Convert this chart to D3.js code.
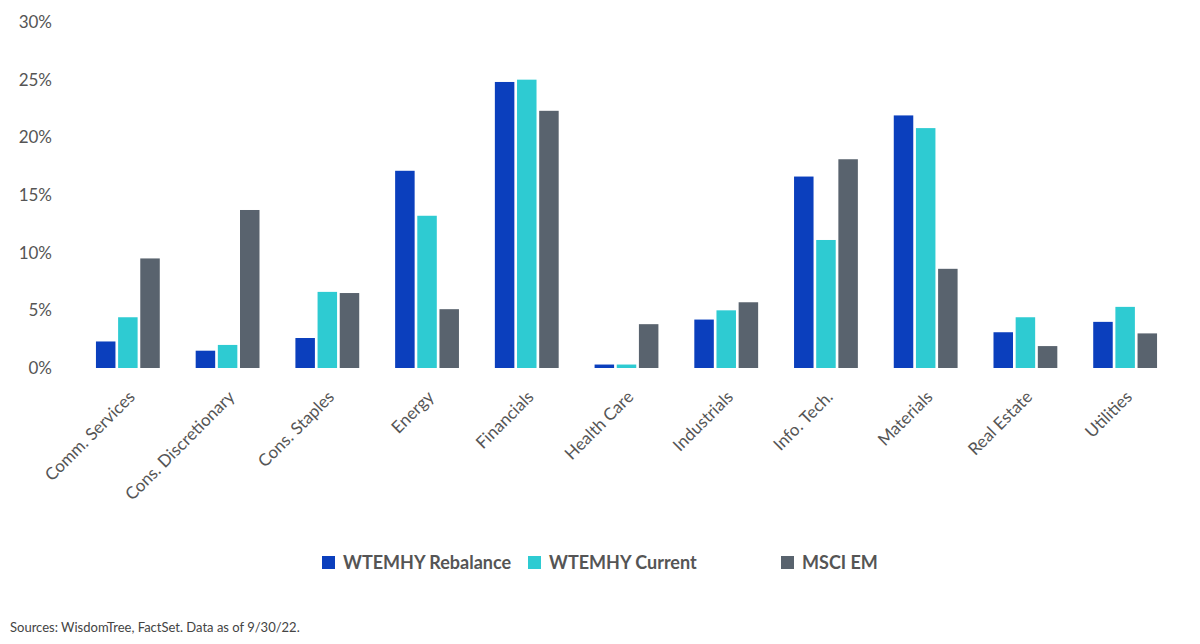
<!DOCTYPE html>
<html><head><meta charset="utf-8">
<script src="https://cdn.jsdelivr.net/npm/d3@7.9.0/dist/d3.min.js"></script>
<style>body{margin:0;background:#fff;font-family:Lato,"Open Sans",sans-serif}</style>
</head><body><svg width="1200" height="644"></svg>
<script>
const sectors = ['Comm. Services','Cons. Discretionary','Cons. Staples','Energy','Financials','Health Care','Industrials','Info. Tech.','Materials','Real Estate','Utilities'];
const seriesNames = ['WTEMHY Rebalance','WTEMHY Current','MSCI EM'];
const rebalance = [2.3,1.5,2.6,17.1,24.8,0.3,4.2,16.6,21.9,3.1,4.0];
const current = [4.4,2.0,6.6,13.2,25.0,0.3,5.0,11.1,20.8,4.4,5.3];
const msci = [9.5,13.7,6.5,5.1,22.3,3.8,5.7,18.1,8.6,1.9,3.0];
const yTicks = [0,5,10,15,20,25,30];
const colors = ['#0b3fbd','#2ecbd2','#59636e'];

const svg = d3.select('svg');
const y = d3.scaleLinear().domain([0,30]).range([368,22]);
const x = d3.scaleBand().domain(sectors).range([78,1175]).paddingInner(0.36).paddingOuter(0.18);
const xs = d3.scaleBand().domain(seriesNames).range([0,x.bandwidth()]).paddingInner(0.12);

// y axis labels
svg.selectAll('.yt').data(yTicks).join('text')
  .attr('x',52).attr('y',d=>y(d)+6).attr('text-anchor','end')
  .attr('font-size',17).attr('fill','#555').text(d=>d+'%');

const data = [rebalance,current,msci];
data.forEach((vals,si)=>{
  svg.selectAll('.b'+si).data(vals).join('rect')
    .attr('x',(d,i)=>x(sectors[i])+xs(seriesNames[si]))
    .attr('width',xs.bandwidth())
    .attr('y',d=>y(d)).attr('height',d=>y(0)-y(d))
    .attr('fill',colors[si]);
});

// x labels
svg.selectAll('.xl').data(sectors).join('text')
  .attr('transform',d=>`translate(${x(d)+x.bandwidth()/2+8},398) rotate(-45)`)
  .attr('text-anchor','end').attr('font-size',17).attr('fill','#555').text(d=>d);

// legend
const lx = [322,528,781];
seriesNames.forEach((n,i)=>{
  svg.append('rect').attr('x',lx[i]).attr('y',556).attr('width',13).attr('height',13).attr('fill',colors[i]);
  svg.append('text').attr('x',lx[i]+21).attr('y',569).attr('font-size',18).attr('font-weight',700)
    .attr('fill','#555').text(n);
});

svg.append('text').attr('x',10).attr('y',632).attr('font-size',13).attr('fill','#444')
  .text('Sources: WisdomTree, FactSet. Data as of 9/30/22.');
</script></body></html>
